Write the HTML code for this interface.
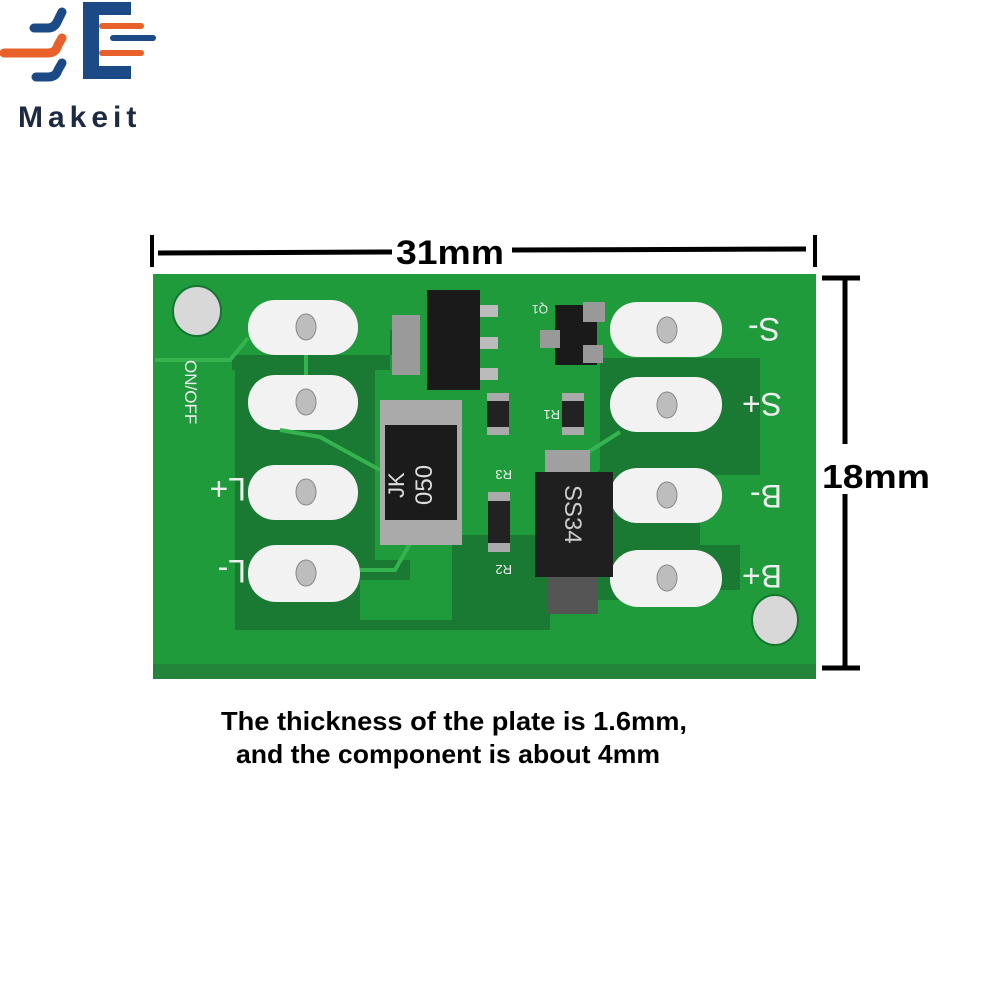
<!DOCTYPE html>
<html><head><meta charset="utf-8"><style>
html,body{margin:0;padding:0;background:#fff;width:1000px;height:1000px;overflow:hidden}
svg{display:block}
</style></head><body>
<svg width="1000" height="1000" viewBox="0 0 1000 1000" xmlns="http://www.w3.org/2000/svg" font-family="Liberation Sans, sans-serif">
<rect width="1000" height="1000" fill="#fff"/>
<g>
<rect x="83" y="2" width="48" height="77" fill="#1b4a86"/>
<rect x="99" y="15" width="32" height="51" fill="#fff"/>
<rect x="99" y="23" width="45" height="6" rx="3" fill="#e8612a"/>
<rect x="110" y="35" width="46" height="6" rx="3" fill="#1b4a86"/>
<rect x="99" y="50" width="45" height="6" rx="3" fill="#e8612a"/>
<path d="M34 28 H48 Q55 28 58 20 L62 12" stroke="#1b4a86" stroke-width="9" fill="none" stroke-linecap="round"/>
<path d="M4 53 H48 Q56 53 58 45 L62 38" stroke="#e8612a" stroke-width="9" fill="none" stroke-linecap="round"/>
<path d="M36 77 H48 Q56 77 58 70 L62 63" stroke="#1b4a86" stroke-width="9" fill="none" stroke-linecap="round"/>
<text x="18" y="127" font-size="30" font-weight="bold" fill="#1e2a44" letter-spacing="5">Makeit</text>
</g>
<line x1="152" y1="235" x2="152" y2="267" stroke="#000" stroke-width="4"/>
<line x1="815" y1="235" x2="815" y2="267" stroke="#000" stroke-width="4"/>
<line x1="158" y1="253" x2="392" y2="252" stroke="#000" stroke-width="5"/>
<line x1="512" y1="250" x2="806" y2="249" stroke="#000" stroke-width="5"/>
<text x="396" y="264" font-size="34" font-weight="bold" fill="#000" textLength="108" lengthAdjust="spacingAndGlyphs">31mm</text>
<line x1="822" y1="278" x2="860" y2="278" stroke="#000" stroke-width="5"/>
<line x1="822" y1="668" x2="860" y2="668" stroke="#000" stroke-width="5"/>
<line x1="845" y1="280" x2="845" y2="444" stroke="#000" stroke-width="5"/>
<line x1="845" y1="494" x2="845" y2="666" stroke="#000" stroke-width="5"/>
<text x="822" y="488" font-size="33" font-weight="bold" fill="#000" textLength="108" lengthAdjust="spacingAndGlyphs">18mm</text>
<rect x="153" y="274" width="663" height="405" fill="#1f9b3c"/>
<rect x="153" y="664" width="663" height="15" fill="#22853a"/>
<path d="M232 355 H410 V330 H390 V370 H232 Z" fill="#1a7a33"/>
<path d="M235 357 H375 V560 H410 V580 H360 V620 H452 V535 H550 V630 H235 Z" fill="#1a7a33"/>
<path d="M600 358 H760 V475 H690 V555 H600 Z" fill="#1a7a33"/>
<path d="M700 545 H740 V590 H690 Z" fill="#1a7a33"/>
<path d="M598 470 H700 V600 H598 Z" fill="#1a7a33"/>
<ellipse cx="197" cy="311" rx="24" ry="25" fill="#d8d8d8" stroke="#167530" stroke-width="2"/>
<ellipse cx="775" cy="620" rx="23" ry="25" fill="#d8d8d8" stroke="#167530" stroke-width="2"/>
<g fill="#f2f2f2">
<rect x="248" y="300" width="110" height="55" rx="27"/>
<rect x="248" y="375" width="110" height="55" rx="27"/>
<rect x="248" y="465" width="110" height="55" rx="27"/>
<rect x="248" y="545" width="112" height="57" rx="28"/>
<rect x="610" y="302" width="112" height="55" rx="27"/>
<rect x="610" y="377" width="112" height="55" rx="27"/>
<rect x="610" y="468" width="112" height="55" rx="27"/>
<rect x="610" y="550" width="112" height="57" rx="28"/>
</g>
<g fill="#bdbdbd" stroke="#888" stroke-width="1">
<ellipse cx="306" cy="327" rx="10" ry="13"/><ellipse cx="306" cy="402" rx="10" ry="13"/>
<ellipse cx="306" cy="492" rx="10" ry="13"/><ellipse cx="306" cy="573" rx="10" ry="13"/>
<ellipse cx="667" cy="330" rx="10" ry="13"/><ellipse cx="667" cy="405" rx="10" ry="13"/>
<ellipse cx="667" cy="495" rx="10" ry="13"/><ellipse cx="667" cy="578" rx="10" ry="13"/>
</g>
<g stroke="#35b34e" stroke-width="4" fill="none">
<path d="M248 338 L230 360 H155"/>
<path d="M306 355 V375"/>
<path d="M280 430 L320 437 L380 470"/>
<path d="M360 570 H395 L412 540"/>
<path d="M620 432 L560 470"/>
</g>
<rect x="392" y="315" width="28" height="60" fill="#9a9a9a"/>
<rect x="427" y="290" width="53" height="100" fill="#1a1a1a"/>
<rect x="480" y="305" width="18" height="12" fill="#bbb"/>
<rect x="480" y="337" width="18" height="12" fill="#bbb"/>
<rect x="480" y="368" width="18" height="12" fill="#bbb"/>
<rect x="555" y="305" width="42" height="60" fill="#1a1a1a"/>
<rect x="583" y="302" width="22" height="20" fill="#999"/>
<rect x="583" y="345" width="20" height="18" fill="#999"/>
<rect x="540" y="330" width="20" height="18" fill="#999"/>
<text font-size="12" fill="#eee" transform="translate(548 305) rotate(180)">Q1</text>
<rect x="380" y="400" width="82" height="145" fill="#aaa"/>
<rect x="385" y="425" width="72" height="95" fill="#1b1b1b"/>
<text font-size="22" fill="#ddd" transform="translate(404 498) rotate(-90)">JK</text>
<text font-size="24" fill="#ddd" transform="translate(432 505) rotate(-90)">050</text>
<rect x="487" y="393" width="22" height="42" fill="#222"/>
<rect x="487" y="393" width="22" height="8" fill="#aaa"/><rect x="487" y="427" width="22" height="8" fill="#aaa"/>
<rect x="562" y="393" width="22" height="42" fill="#222"/>
<rect x="562" y="393" width="22" height="8" fill="#aaa"/><rect x="562" y="427" width="22" height="8" fill="#aaa"/>
<rect x="488" y="492" width="22" height="60" fill="#222"/>
<rect x="488" y="492" width="22" height="9" fill="#aaa"/><rect x="488" y="543" width="22" height="9" fill="#aaa"/>
<text font-size="13" fill="#eee" transform="translate(512 470) rotate(180)">R3</text>
<text font-size="13" fill="#eee" transform="translate(560 410) rotate(180)">R1</text>
<text font-size="13" fill="#eee" transform="translate(512 565) rotate(180)">R2</text>
<rect x="545" y="450" width="45" height="25" fill="#a0a0a0"/>
<rect x="535" y="472" width="78" height="105" fill="#1f1f1f"/>
<rect x="548" y="577" width="50" height="37" fill="#555"/>
<text font-size="24" fill="#ccc" transform="translate(565 485) rotate(90)">SS34</text>
<g fill="#eee" font-size="32">
<text transform="translate(780 318) rotate(180)">S-</text>
<text transform="translate(782 393) rotate(180)">S+</text>
<text transform="translate(782 485) rotate(180)">B-</text>
<text transform="translate(782 565) rotate(180)">B+</text>
<text transform="translate(246 478) rotate(180)">L+</text>
<text transform="translate(246 560) rotate(180)">L-</text>
</g>
<text font-size="17" fill="#eee" transform="translate(185 360) rotate(90)">ON/OFF</text>
<text x="221" y="730" font-size="26" font-weight="bold" fill="#000" textLength="466" lengthAdjust="spacingAndGlyphs">The thickness of the plate is 1.6mm,</text>
<text x="236" y="763" font-size="26" font-weight="bold" fill="#000" textLength="424" lengthAdjust="spacingAndGlyphs">and the component is about 4mm</text>
</svg>
</body></html>
